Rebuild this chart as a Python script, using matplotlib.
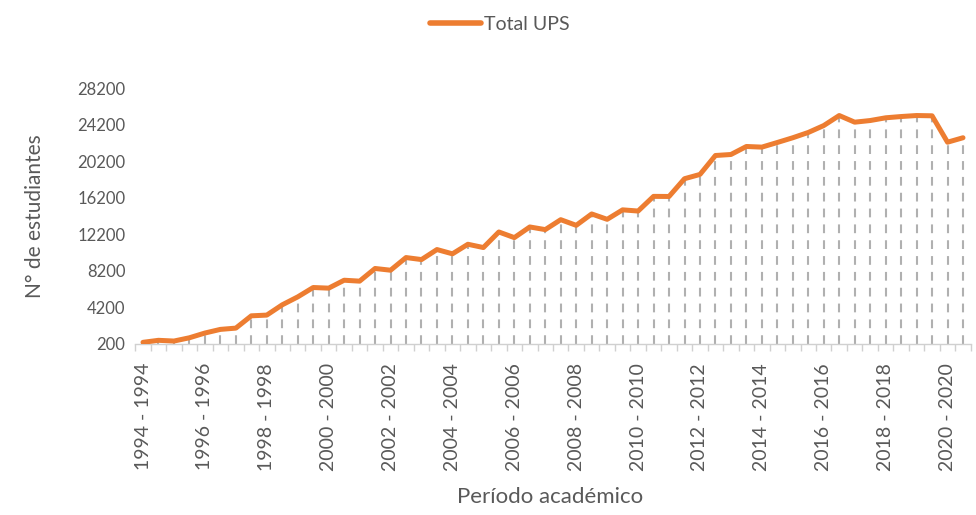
import matplotlib
matplotlib.use("Agg")
import matplotlib.pyplot as plt

plt.rcParams['font.family'] = ['Lato', 'DejaVu Sans']

years = list(range(1994, 2021))
categories = []
for y in years:
    categories.append(f"{y} - {y}")
    categories.append(f"{y} - {y + 1}")

total_ups = [330, 550, 470, 830, 1350, 1750, 1890, 3240, 3320, 4450,
             5320, 6350, 6280, 7150, 7050, 8440, 8250, 9640, 9420, 10520,
             10050, 11100, 10740, 12450, 11830, 13000, 12710, 13800, 13180, 14430,
             13840, 14880, 14750, 16360, 16350, 18300, 18770, 20850, 20960, 21840,
             21770, 22280, 22800, 23380, 24140, 25240, 24510, 24690, 24990, 25130,
             25240, 25210, 22310, 22800]

y_ticks = [200, 4200, 8200, 12200, 16200, 20200, 24200, 28200]
series_name = "Total UPS"
x_title = "Período académico"
y_title = "N° de estudiantes"

TXT = '#595959'
ORANGE = '#ED7D31'

fig = plt.figure(figsize=(9.76, 5.15), dpi=100)
ax = fig.add_axes([0.1386, 0.333, 0.8560, 0.495])

x = list(range(len(categories)))
ax.vlines(x, y_ticks[0], total_ups, colors='#B0B0B0', linewidth=1.5,
          linestyles=(0, (4.2, 3.4)), zorder=1)
ax.plot(x, total_ups, color=ORANGE, linewidth=3.6, solid_joinstyle='round',
        solid_capstyle='round', label=series_name, zorder=3)

ax.set_xlim(-0.5, len(categories) - 0.5)
ax.set_ylim(y_ticks[0], y_ticks[-1])

ax.set_yticks(y_ticks)
ax.set_yticklabels([str(v) for v in y_ticks], fontsize=12, color=TXT)
ax.tick_params(axis='y', length=0, pad=7)

label_pos = list(range(0, len(categories), 4))
ax.set_xticks(label_pos)
ax.set_xticklabels([categories[i] for i in label_pos], rotation=90,
                   fontsize=14, color=TXT)
ax.set_xticks([i - 0.5 for i in range(len(categories) + 1)], minor=True)
ax.tick_params(axis='x', which='major', length=0, pad=14)
ax.tick_params(axis='x', which='minor', length=5, width=1, color='#D0D0D0')

for s in ['top', 'right', 'left']:
    ax.spines[s].set_visible(False)
ax.spines['bottom'].set_color('#D0D0D0')
ax.spines['bottom'].set_linewidth(1)

fig.text(0.036, 0.58, y_title, rotation=90, ha='center', va='center',
         fontsize=15, color=TXT)
fig.text(0.564, 0.035, x_title, ha='center', va='center', fontsize=16, color=TXT)

leg = fig.legend(loc='center', bbox_to_anchor=(0.512, 0.952), frameon=False,
                 fontsize=14, handlelength=2.6, handletextpad=0.15)
for t in leg.get_texts():
    t.set_color(TXT)
for h in leg.get_lines():
    h.set_linewidth(4)

fig.savefig('out.png', dpi=100)
